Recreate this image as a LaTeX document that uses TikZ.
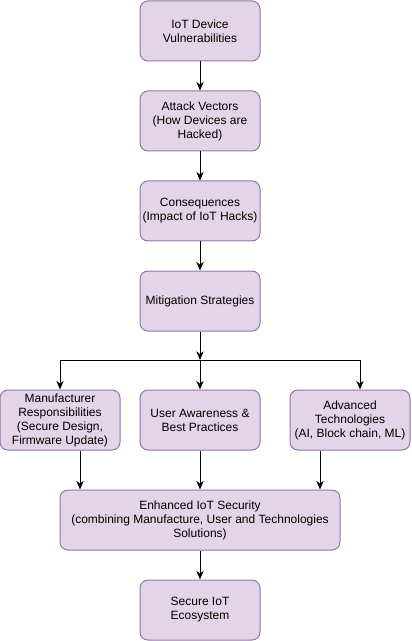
\documentclass[tikz,border=0pt]{standalone}
\usepackage{fontspec}
\setmainfont{Liberation Sans}
\usetikzlibrary{arrows.meta}

\definecolor{boxfill}{RGB}{225,213,231}
\definecolor{boxline}{RGB}{150,115,166}

\tikzset{
  stepbox/.style={draw=boxline, fill=boxfill, rounded corners=6pt, line width=0.75pt,
    minimum width=90pt, minimum height=45pt, align=center, inner sep=1pt,
    font=\fontsize{9}{10.5}\selectfont},
  arr/.style={-{Stealth[length=6.5pt,width=5.5pt]}, line width=0.75pt}
}

\begin{document}
\begin{tikzpicture}[x=0.75pt,y=0.75pt,yscale=-1,xscale=1]
\useasboundingbox (0,0) rectangle (411,641);

% main chain
\node [stepbox] (vuln) at (200,31) {IoT Device\\Vulnerabilities};
\node [stepbox] (attack) at (200,121) {Attack Vectors\\(How Devices are\\Hacked)};
\node [stepbox] (conseq) at (200,211) {Consequences\\(Impact of IoT Hacks)};
\node [stepbox] (mitig) at (200,301) {Mitigation Strategies};

% three branches
\node [stepbox] (manu) at (60,420) {Manufacturer\\Responsibilities\\(Secure Design,\\Firmware Update)};
\node [stepbox] (user) at (200,420) {User Awareness \&\\Best Practices};
\node [stepbox] (adv) at (350,420) {Advanced\\Technologies\\(AI, Block chain, ML)};

% result
\node [stepbox, minimum width=210pt] (enh) at (200,520) {Enhanced IoT Security\\(combining Manufacture, User and Technologies\\Solutions)};
\node [stepbox] (eco) at (200,610) {Secure IoT\\Ecosystem};

\coordinate (split) at (200,360);

% connectors
\draw [arr] (vuln) -- (attack);
\draw [arr] (attack) -- (conseq);
\draw [arr] (conseq) -- (mitig);
\draw [arr] (mitig) -- (split);
\draw [arr] (split) -- (user);
\draw [arr] (split) -| (manu.north);
\draw [arr] (split) -| ([xshift=7.5pt]adv.north);
\draw [arr] ([xshift=15pt]manu.south) -- ([xshift=15pt]manu.south |- enh.north);
\draw [arr] (user) -- (enh);
\draw [arr] ([xshift=-22.5pt]adv.south) -- ([xshift=-22.5pt]adv.south |- enh.north);
\draw [arr] (enh) -- (eco);

\end{tikzpicture}
\end{document}
